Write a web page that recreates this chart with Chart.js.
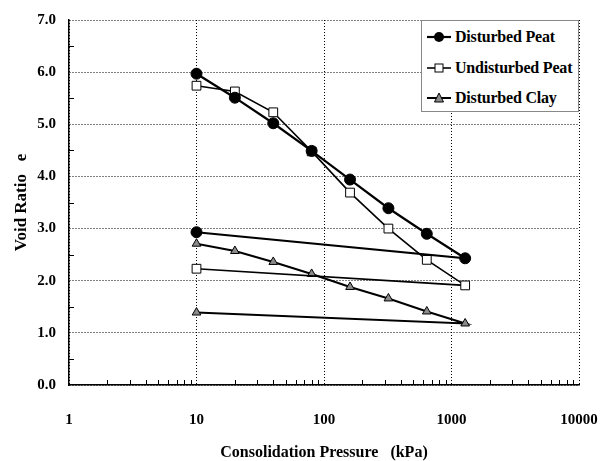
<!DOCTYPE html>
<html><head><meta charset="utf-8">
<script src="https://cdn.jsdelivr.net/npm/chart.js@4"></script>
<style>
html,body{margin:0;padding:0;background:#fff;}
#wrap{position:relative;width:610px;height:461px;}
#legend{position:absolute;left:421px;top:20px;width:158px;height:92px;border:1px solid #888;background:#fff;box-sizing:border-box;font:bold 16px "Liberation Serif","Times New Roman",serif;color:#000;}
.row{position:absolute;left:4px;height:22px;display:flex;align-items:center;white-space:nowrap;letter-spacing:-0.2px;}
.row svg{margin-right:3px;}
</style></head>
<body><div id="wrap"><canvas id="c" width="610" height="461"></canvas><div id="legend"></div></div>
<script>
// ---- data ----
const pressures        = [10, 20, 40, 80, 160, 320, 640, 1280, 10]; // loading then unloading to 10 kPa
const disturbedPeat    = [5.97, 5.51, 5.02, 4.49, 3.94, 3.39, 2.90, 2.43, 2.93];
const undisturbedPeat  = [5.74, 5.63, 5.23, 4.48, 3.69, 3.00, 2.40, 1.91, 2.23];
const disturbedClay    = [2.71, 2.57, 2.36, 2.13, 1.88, 1.66, 1.41, 1.18, 1.39];
const seriesNames      = ["Disturbed Peat", "Undisturbed Peat", "Disturbed Clay"];
const xTickValues      = [1, 10, 100, 1000, 10000];
const yTickValues      = [0, 1, 2, 3, 4, 5, 6, 7];

const FONT = '"Liberation Serif","Times New Roman",serif';
const toPts = vals => pressures.map((p, i) => ({x: p, y: vals[i]}));

const minorTicks = {
  id: 'minorTicks',
  afterDraw(chart) {
    const {ctx, chartArea: a, scales: {x, y}} = chart;
    ctx.save();
    ctx.strokeStyle = '#000';
    ctx.lineWidth = 1;
    ctx.beginPath();
    for (let d = 0; d < 4; d++) {
      for (let k = 2; k <= 9; k++) {
        const px = Math.round(x.getPixelForValue(k * Math.pow(10, d))) + 0.5;
        ctx.moveTo(px, a.bottom);
        ctx.lineTo(px, a.bottom - 5);
      }
    }
    for (let v = 0.5; v < 7; v += 1) {
      const py = Math.round(y.getPixelForValue(v)) + 0.5;
      ctx.moveTo(a.left, py);
      ctx.lineTo(a.left + 5, py);
    }
    ctx.stroke();
    ctx.restore();
  }
};

new Chart(document.getElementById('c'), {
  type: 'scatter',
  data: {
    datasets: [
      {label: seriesNames[0], data: toPts(disturbedPeat), showLine: true,
       borderColor: '#000', borderWidth: 2.2, pointStyle: 'circle', pointRadius: 5.5,
       pointBackgroundColor: '#000', pointBorderColor: '#000', pointBorderWidth: 1},
      {label: seriesNames[1], data: toPts(undisturbedPeat), showLine: true,
       borderColor: '#000', borderWidth: 1.6, pointStyle: 'rect', pointRadius: 6.2,
       pointBackgroundColor: '#fff', pointBorderColor: '#000', pointBorderWidth: 1},
      {label: seriesNames[2], data: toPts(disturbedClay), showLine: true,
       borderColor: '#000', borderWidth: 2, pointStyle: 'triangle', pointRadius: 5,
       pointBackgroundColor: '#8a8a8a', pointBorderColor: '#000', pointBorderWidth: 1}
    ]
  },
  options: {
    responsive: false,
    devicePixelRatio: 1,
    animation: false,
    layout: {padding: {top: 20, right: 31, left: 0, bottom: 0}},
    plugins: {legend: {display: false}, tooltip: {enabled: false}},
    scales: {
      x: {
        type: 'logarithmic', min: 1, max: 10000,
        afterBuildTicks: s => { s.ticks = xTickValues.map(v => ({value: v})); },
        afterFit: s => { s.height = 76; s.paddingLeft = 0; s.paddingRight = 0; },
        ticks: {callback: v => String(v), color: '#000', padding: 26, maxRotation: 0,
                font: {family: FONT, size: 15, weight: 'bold'}},
        grid: {color: '#000', lineWidth: 1, drawTicks: false},
        border: {display: true, color: '#000', width: 1.5, dash: [1, 2]},
        title: {display: true, text: 'Consolidation Pressure   (kPa)', color: '#000',
                font: {family: FONT, size: 16, weight: 'bold', lineHeight: 1}, padding: {top: 0, bottom: 0}}
      },
      y: {
        min: 0, max: 7,
        afterBuildTicks: s => { s.ticks = yTickValues.map(v => ({value: v})); },
        afterFit: s => { s.width = 69; s.paddingTop = 0; s.paddingBottom = 0; },
        ticks: {callback: v => Number(v).toFixed(1), color: '#000', padding: 13,
                font: {family: FONT, size: 15, weight: 'bold'}},
        grid: {color: '#000', lineWidth: 1, drawTicks: false},
        border: {display: true, color: '#000', width: 1.5, dash: [1, 2]},
        title: {display: true, text: 'Void Ratio   e', color: '#000',
                font: {family: FONT, size: 17, weight: 'bold', lineHeight: 1}, padding: {top: 13, bottom: 0}}
      }
    }
  },
  plugins: [minorTicks]
});

// HTML legend built from series names
const markers = [
  '<circle cx="13" cy="8" r="5" fill="#000"/>',
  '<rect x="9" y="4" width="8" height="8" fill="#fff" stroke="#000" stroke-width="1"/>',
  '<polygon points="13,3 17.5,12 8.5,12" fill="#8a8a8a" stroke="#000" stroke-width="1"/>'
];
const widths = [2.2, 1.6, 2];
const tops = [5, 36, 66];
const lg = document.getElementById('legend');
seriesNames.forEach((n, i) => {
  const r = document.createElement('div');
  r.className = 'row';
  r.style.top = tops[i] + 'px';
  r.innerHTML = '<svg width="26" height="16"><line x1="1" y1="8" x2="25" y2="8" stroke="#000" stroke-width="' + widths[i] + '"/>' + markers[i] + '</svg><span>' + n + '</span>';
  lg.appendChild(r);
});
</script>
</body></html>
